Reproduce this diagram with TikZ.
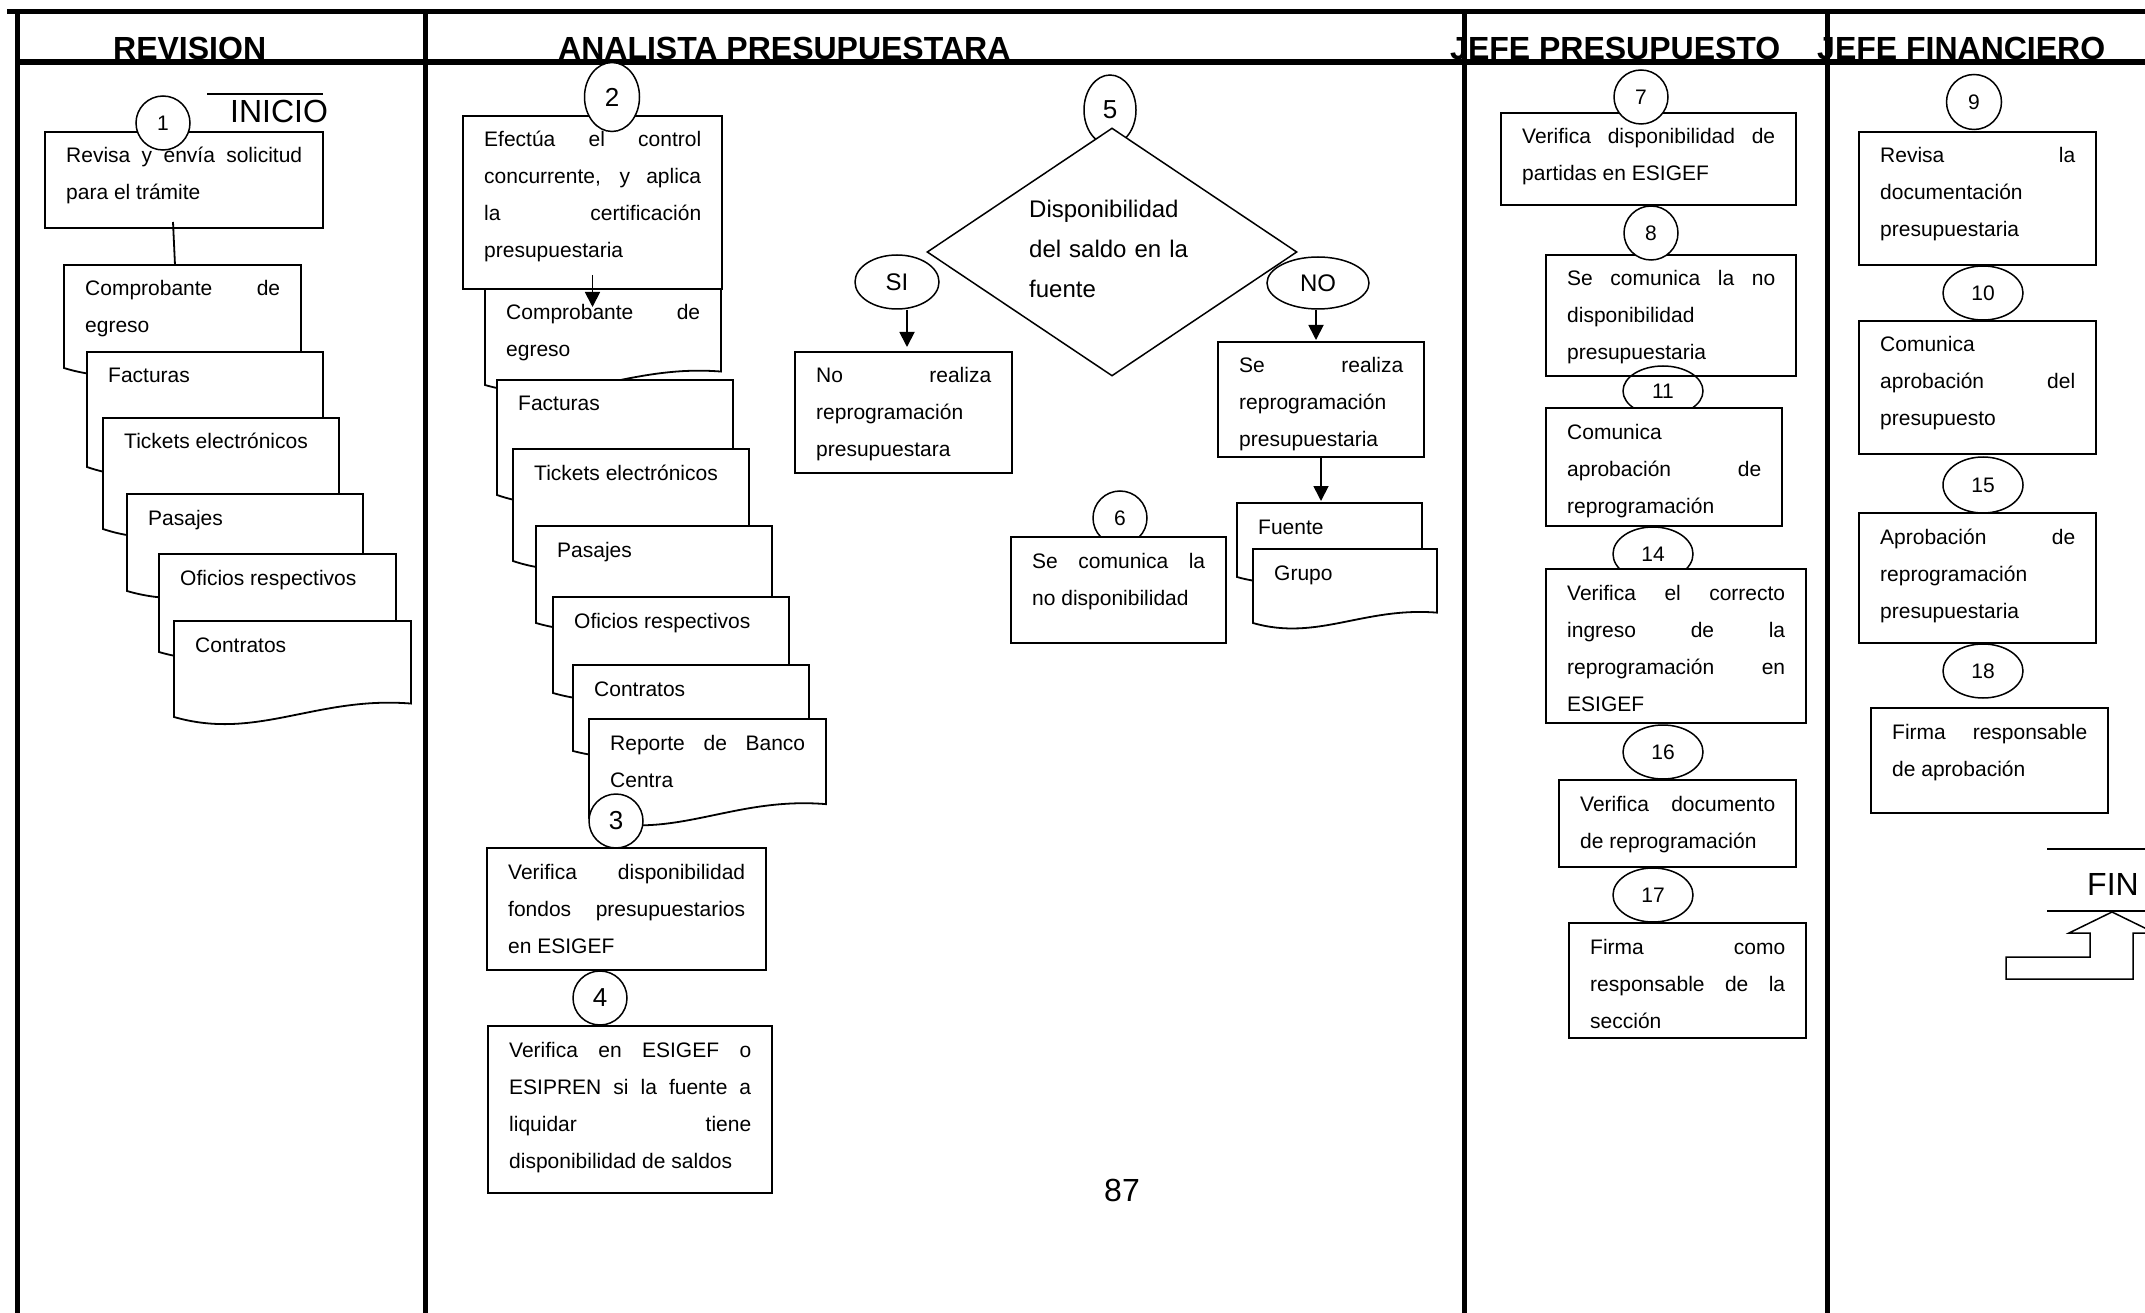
\documentclass[tikz,border=0pt]{standalone}
\usepackage{fontspec}
\setmainfont{Liberation Sans}
\usetikzlibrary{arrows.meta,shapes.geometric}

\tikzset{
  lane/.style={line width=5pt},
  frame/.style={draw, line width=1.8pt, fill=white, inner sep=0pt, outer sep=0pt, anchor=north west},
  docline/.style={draw, line width=1.8pt, fill=white},
  stepnum/.style={ellipse, draw, line width=1.5pt, fill=white, inner sep=0pt, font=\fontsize{21}{21}\selectfont},
  bignum/.style={font=\fontsize{26}{26}\selectfont},
  decision/.style={diamond, draw, line width=1.5pt, fill=white, inner sep=0pt, minimum width=370pt, minimum height=248pt},
  boxtext/.style={anchor=base west, inner sep=0pt, align=justify, font=\fontsize{21}{37}\selectfont},
  dectext/.style={anchor=base west, inner sep=0pt, text width=200pt, align=left, font=\fontsize{24}{40}\selectfont},
  lanetitle/.style={anchor=base west, inner sep=0pt, font=\fontsize{32}{32}\selectfont\bfseries},
  termtext/.style={anchor=base west, inner sep=0pt, font=\fontsize{32}{32}\selectfont},
  arrow/.style={-{Triangle[width=15pt,length=15pt]}, line width=1.8pt},
  link/.style={line width=1.8pt},
  thinline/.style={line width=1.5pt}
}

% box frame: name, left, top, right, bottom
\newcommand{\stepframe}[5]{%
  \node[frame, minimum width={#4-#2}, minimum height={#5-#3}] (#1) at (#2,#3) {};}
% document shape with wavy bottom: name, left, top, right, left bottom
\newcommand{\docframe}[5]{%
  \node[inner sep=0pt, outer sep=0pt, anchor=north west,
    minimum width={#4-#2}, minimum height={#5-#3}] (#1) at (#2,#3) {};
  \pgfmathsetmacro\dw{#4-#2}\pgfmathsetmacro\dh{#5-#3}
  \path[docline] (#2,#3) -- (#4,#3) -- (#4,{#5-0.14*\dh})
    .. controls ({#2+0.6*\dw},{#5-0.22*\dh}) and ({#2+0.35*\dw},{#5+0.25*\dh}) .. (#2,#5) -- cycle;}
% text of a box or document: frame name, text width, text
\newcommand{\steptext}[3]{%
  \node[boxtext, text width=#2pt] (#1t) at ([xshift=21pt,yshift=-31pt]#1.north west)
    {\tolerance=10000 \hbadness=10000 \hyphenpenalty=10000 #3};}

\begin{document}
\begin{tikzpicture}[x=1pt,y=-1pt]
  \useasboundingbox (0,0) rectangle (2145,1313);
  \fill[white] (0,0) rectangle (2145,1313);
  \clip (0,0) rectangle (2145,1313);

  % lane titles
  \node[lanetitle] (rev) at (113,60) {REVISION};
  \node[lanetitle] (ana) at (558,60) {ANALISTA PRESUPUESTARA};
  \node[lanetitle] (jpre) at (1450,60) {JEFE PRESUPUESTO};
  \node[lanetitle] (jfin) at (1817,60) {JEFE FINANCIERO};

  % swimlanes
  \draw[lane] (7,12) -- (2145,12);
  \draw[lane, line width=6pt] (17,62) -- (2145,62);
  \foreach \x in {17,425,1464,1827}
    \draw[lane] (\x,12) -- (\x,1313);

  % REVISION
  \docframe{rvcomp}{64}{265}{301}{368}
  \docframe{rvfact}{87}{352}{323}{467}
  \docframe{rvtick}{103}{418}{339}{529}
  \docframe{rvpasa}{127}{494}{363}{591}
  \docframe{rvofic}{159}{554}{396}{652}
  \docframe{rvcont}{174}{621}{411}{717}
  \stepframe{b1}{45}{132}{323}{228}
  \node[stepnum, minimum size=54pt] (c1) at (163,123) {1};

  % ANALISTA PRESUPUESTARA
  \docframe{ancomp}{485}{289}{721}{385}
  \docframe{anfact}{497}{380}{733}{495}
  \docframe{antick}{513}{449}{749}{561}
  \docframe{anpasa}{536}{526}{772}{623}
  \docframe{anofic}{553}{597}{789}{693}
  \docframe{ancont}{573}{665}{809}{751}
  \docframe{anrepo}{589}{719}{826}{818}
  \stepframe{b2}{463}{116}{722}{289}
  \node[stepnum, bignum, minimum width=55pt, minimum height=69pt] (c2) at (612,97) {2};
  \node[stepnum, bignum, minimum size=54pt] (c3) at (616,821) {3};
  \stepframe{b3}{487}{848}{766}{970}
  \node[stepnum, bignum, minimum size=54pt] (c4) at (600,998) {4};
  \stepframe{b4}{488}{1026}{772}{1193}

  % decision
  \node[stepnum, bignum, minimum width=52pt, minimum height=70pt] (c5) at (1110,110) {5};
  \node[decision] (dec) at (1112,252) {};
  \node[stepnum, font=\fontsize{24}{24}\selectfont, minimum width=84pt, minimum height=54pt] (si) at (897,282) {SI};
  \node[stepnum, font=\fontsize{24}{24}\selectfont, minimum width=102pt, minimum height=52pt] (no) at (1318,283) {NO};
  \stepframe{bnr}{795}{352}{1012}{473}
  \stepframe{bsr}{1218}{342}{1424}{457}
  \docframe{fuente}{1237}{503}{1422}{577}
  \docframe{grupo}{1253}{549}{1437}{623}
  \node[stepnum, minimum size=54pt] (c6) at (1120,518) {6};
  \stepframe{b6}{1011}{537}{1226}{643}

  % JEFE PRESUPUESTO
  \stepframe{b7}{1501}{113}{1796}{205}
  \node[stepnum, minimum size=54pt] (c7) at (1641,97) {7};
  \stepframe{b8}{1546}{255}{1796}{376}
  \node[stepnum, minimum size=54pt] (c8) at (1651,233) {8};
  \node[stepnum, fill=none, minimum width=80pt, minimum height=50pt] (c11) at (1663,391) {11};
  \stepframe{b11}{1546}{408}{1782}{526}
  \node[stepnum, minimum width=80pt, minimum height=54pt] (c14) at (1653,554) {14};
  \stepframe{b14}{1546}{569}{1806}{723}
  \node[stepnum, minimum width=80pt, minimum height=54pt] (c16) at (1663,752) {16};
  \stepframe{b16}{1559}{780}{1796}{867}
  \node[stepnum, minimum width=80pt, minimum height=54pt] (c17) at (1653,895) {17};
  \stepframe{b17}{1569}{923}{1806}{1038}

  % JEFE FINANCIERO
  \node[stepnum, minimum size=55pt] (c9) at (1974,102) {9};
  \stepframe{b9}{1859}{132}{2096}{265}
  \node[stepnum, minimum width=80pt, minimum height=54pt] (c10) at (1983,293) {10};
  \stepframe{b10}{1859}{321}{2096}{454}
  \node[stepnum, minimum width=80pt, minimum height=56pt] (c15) at (1983,485) {15};
  \stepframe{b15}{1859}{513}{2096}{643}
  \node[stepnum, minimum width=80pt, minimum height=54pt] (c18) at (1983,671) {18};
  \stepframe{b18}{1871}{708}{2108}{813}

  % texts
  \steptext{b1}{236}{Revisa y envía solicitud\linebreak para el trámite}
  \steptext{rvcomp}{195}{Comprobante de\linebreak egreso}
  \steptext{rvfact}{194}{Facturas}
  \steptext{rvtick}{194}{Tickets electrónicos}
  \steptext{rvpasa}{194}{Pasajes}
  \steptext{rvofic}{195}{Oficios respectivos}
  \steptext{rvcont}{195}{Contratos}
  \steptext{b2}{217}{Efectúa el control\linebreak concurrente, y aplica\linebreak la certificación\linebreak presupuestaria}
  \steptext{ancomp}{194}{Comprobante de\linebreak egreso}
  \steptext{anfact}{194}{Facturas}
  \steptext{antick}{194}{Tickets electrónicos}
  \steptext{anpasa}{194}{Pasajes}
  \steptext{anofic}{194}{Oficios respectivos}
  \steptext{ancont}{194}{Contratos}
  \steptext{anrepo}{195}{Reporte de Banco\linebreak Centra}
  \steptext{b3}{237}{Verifica disponibilidad\linebreak fondos presupuestarios\linebreak en ESIGEF}
  \steptext{b4}{242}{Verifica en ESIGEF o\linebreak ESIPREN si la fuente a\linebreak liquidar tiene\linebreak disponibilidad de saldos}
  \node[dectext] (dect) at (1029,218) {Disponibilidad\\del saldo en la\\fuente};
  \steptext{bnr}{175}{No realiza\linebreak reprogramación\linebreak presupuestara}
  \steptext{bsr}{164}{Se realiza\linebreak reprogramación\linebreak presupuestaria}
  \steptext{fuente}{143}{Fuente}
  \steptext{grupo}{142}{Grupo}
  \steptext{b6}{173}{Se comunica la\linebreak no disponibilidad}
  \steptext{b7}{253}{Verifica disponibilidad de\linebreak partidas en ESIGEF}
  \steptext{b8}{208}{Se comunica la no\linebreak disponibilidad\linebreak presupuestaria}
  \steptext{b11}{194}{Comunica\linebreak aprobación de\linebreak reprogramación}
  \steptext{b14}{218}{Verifica el correcto\linebreak ingreso de la\linebreak reprogramación en\linebreak ESIGEF}
  \steptext{b16}{195}{Verifica documento\linebreak de reprogramación}
  \steptext{b17}{195}{Firma como\linebreak responsable de la\linebreak sección}
  \steptext{b9}{195}{Revisa la\linebreak documentación\linebreak presupuestaria}
  \steptext{b10}{195}{Comunica\linebreak aprobación del\linebreak presupuesto}
  \steptext{b15}{195}{Aprobación de\linebreak reprogramación\linebreak presupuestaria}
  \steptext{b18}{195}{Firma responsable\linebreak de aprobación}

  % connectors
  \draw[link] ([xshift=-11pt,yshift=6pt]b1.south) -- ([xshift=111pt]rvcomp.north west);
  \draw[arrow] ([yshift=14pt]b2.south) -- ([yshift=-18pt]b2.south);
  \draw[arrow, shorten >=5pt] ([xshift=10pt]si.south) -- ([xshift=10pt]si.south |- bnr.north);
  \draw[arrow, shorten >=2pt] ([xshift=-2pt]no.south) -- ([xshift=-2pt]no.south |- bsr.north);
  \draw[arrow, shorten >=2pt] (bsr.south) -- (bsr.south |- fuente.north);

  % terminals
  \node[termtext] (inicio) at (230,123) {INICIO};
  \draw[thinline] ([xshift=-23pt,yshift=29pt]inicio.base west) -- ++(116,0);
  \node[termtext] (fin) at (2087,895) {FIN};
  \draw[thinline] ([xshift=-40pt,yshift=46pt]fin.base west) -- ++(120,0);
  \draw[thinline] ([xshift=-40pt,yshift=-16pt]fin.base west) -- ++(120,0);
  \draw[thinline] (2006,979) -- (2006,957) -- (2090,957) -- (2090,933) -- (2069,933)
    -- (2112,912) -- (2155,933) -- (2133,933) -- (2133,979) -- cycle;
  \node[termtext, anchor=center] (pnum) at (1122,1190) {87};
\end{tikzpicture}
\end{document}
